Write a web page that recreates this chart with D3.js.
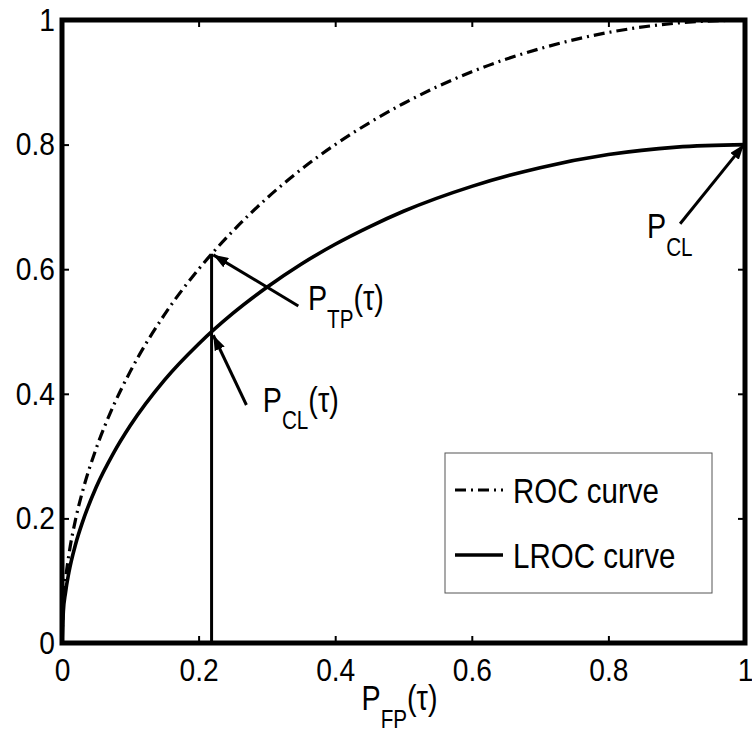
<!DOCTYPE html>
<html>
<head>
<meta charset="utf-8">
<script src="https://cdn.jsdelivr.net/npm/d3@7"></script>
<style>
  body { margin: 0; background: #fff; }
  text { font-family: "Liberation Sans", Arial, sans-serif; fill: #000; }
</style>
</head>
<body>
<script>
// values
const tickValues = [0, 0.2, 0.4, 0.6, 0.8, 1];
const tickLabels = ["0", "0.2", "0.4", "0.6", "0.8", "1"];

// shared x grid for both curves
const pfp = [0, 0.002, 0.005, 0.01, 0.02, 0.03, 0.05, 0.075, 0.1, 0.15, 0.2, 0.25, 0.3, 0.35, 0.4, 0.45, 0.5, 0.6, 0.7, 0.8, 0.9, 1];
// ROC curve (dash-dot)
const rocY = [0, 0.063, 0.100, 0.141, 0.199, 0.243, 0.312, 0.380, 0.436, 0.527, 0.600, 0.661, 0.714, 0.760, 0.800, 0.835, 0.866, 0.917, 0.954, 0.980, 0.995, 1];
// LROC curve (solid)
const lrocY = [0, 0.051, 0.080, 0.113, 0.159, 0.194, 0.250, 0.304, 0.349, 0.422, 0.480, 0.529, 0.571, 0.608, 0.640, 0.668, 0.693, 0.733, 0.763, 0.784, 0.796, 0.8];

// threshold tau
const tauX = 0.219;
const tauTP = 0.625;

// annotations: arrow tail -> head, label anchor (data units)
const arrowNames = ["TP", "CLtau", "CL"];
const arrowTail = [[0.346, 0.541], [0.270, 0.382], [0.905, 0.673]];
const arrowHead = [[0.2215, 0.623], [0.2215, 0.494], [0.9985, 0.8]];
const labelPos = [[0.36, 0.534], [0.294, 0.371], [0.8565, 0.650]];
const labelSub = ["TP", "CL", "CL"];
const labelTail = ["(τ)", "(τ)", ""];

const legendNames = ["ROC curve", "LROC curve"];

class Chart {
  constructor() {
    this.margin = {top: 20, left: 62};
    this.width = 683;
    this.height = 623;
    this.svg = d3.select("body").append("svg")
      .attr("width", 752).attr("height", 735);
    this.plot = this.svg.append("g")
      .attr("transform", `translate(${this.margin.left},${this.margin.top})`);
    this.createScales();
    this.addLines();
    this.addAxes();
    this.addArrows();
    this.addLegend();
  }

  createScales() {
    this.x = d3.scaleLinear().domain([0, 1]).range([0, this.width]);
    this.y = d3.scaleLinear().domain([0, 1]).range([this.height, 0]);
  }

  // subscripted label like P_TP(τ), squeezed a bit horizontally
  label(g, x, y, sub, tail, size) {
    const t = g.append("g")
      .attr("transform", `translate(${x},${y}) scale(0.82,1)`)
      .append("text")
      .style("font-size", size + "px");
    t.append("tspan").text("P");
    t.append("tspan").attr("dy", size * 0.5).style("font-size", (size * 0.72) + "px").text(sub);
    if (tail) t.append("tspan").attr("dy", -size * 0.5).text(tail);
  }

  addLines() {
    const line = d3.line()
      .x(d => this.x(d[0]))
      .y(d => this.y(d[1]))
      .curve(d3.curveMonotoneX);

    const roc = pfp.map((v, i) => [v, rocY[i]]);
    const lroc = pfp.map((v, i) => [v, lrocY[i]]);

    this.plot.append("path")
      .datum(roc)
      .attr("d", line)
      .attr("fill", "none")
      .attr("stroke", "#000")
      .attr("stroke-width", 3.2)
      .attr("stroke-dasharray", "11,5,2,5");

    this.plot.append("path")
      .datum(lroc)
      .attr("d", line)
      .attr("fill", "none")
      .attr("stroke", "#000")
      .attr("stroke-width", 3.6);

    // threshold line
    this.plot.append("line")
      .attr("x1", this.x(tauX)).attr("x2", this.x(tauX))
      .attr("y1", this.y(0)).attr("y2", this.y(tauTP))
      .attr("stroke", "#000")
      .attr("stroke-width", 3);
  }

  addAxes() {
    const h = this.height, w = this.width;
    const fmt = (d, i) => tickLabels[i];

    const xb = this.plot.append("g")
      .attr("transform", `translate(0,${h})`)
      .call(d3.axisBottom(this.x).tickValues(tickValues).tickFormat(fmt)
        .tickSizeInner(-7).tickSizeOuter(0).tickPadding(15));
    const yl = this.plot.append("g")
      .call(d3.axisLeft(this.y).tickValues(tickValues).tickFormat(fmt)
        .tickSizeInner(-7).tickSizeOuter(0).tickPadding(8));
    this.plot.append("g")
      .call(d3.axisTop(this.x).tickValues(tickValues).tickFormat("")
        .tickSizeInner(-7).tickSizeOuter(0));
    this.plot.append("g")
      .attr("transform", `translate(${w},0)`)
      .call(d3.axisRight(this.y).tickValues(tickValues).tickFormat("")
        .tickSizeInner(-7).tickSizeOuter(0));

    this.plot.selectAll(".domain").remove();
    this.plot.selectAll(".tick line").attr("stroke", "#000").attr("stroke-width", 2);
    this.plot.selectAll(".tick text")
      .style("font-size", "32px")
      .attr("font-family", null);
    xb.selectAll(".tick text").attr("transform", "scale(0.88,1)");
    yl.selectAll(".tick text").attr("transform", "scale(0.88,1)").attr("x", -8);

    // box
    this.plot.append("rect")
      .attr("width", w).attr("height", h)
      .attr("fill", "none")
      .attr("stroke", "#000")
      .attr("stroke-width", 5);

    // x axis title centred under the axis
    const g = this.plot.append("g");
    this.label(g, this.x(0.5) - 42, h + 67, "FP", "(τ)", 35);
  }

  addArrows() {
    const defs = this.svg.append("defs");
    defs.append("marker")
      .attr("id", "head")
      .attr("viewBox", "0 0 15 11")
      .attr("refX", 15).attr("refY", 5.5)
      .attr("markerWidth", 15).attr("markerHeight", 11)
      .attr("markerUnits", "userSpaceOnUse")
      .attr("orient", "auto")
      .append("path")
      .attr("d", "M0,0 L15,5.5 L0,11 Z")
      .attr("fill", "#000");

    arrowNames.forEach((n, i) => {
      this.plot.append("line")
        .attr("x1", this.x(arrowTail[i][0])).attr("y1", this.y(arrowTail[i][1]))
        .attr("x2", this.x(arrowHead[i][0])).attr("y2", this.y(arrowHead[i][1]))
        .attr("stroke", "#000")
        .attr("stroke-width", 3)
        .attr("marker-end", "url(#head)");
      this.label(this.plot, this.x(labelPos[i][0]), this.y(labelPos[i][1]),
        labelSub[i], labelTail[i], 35);
    });
  }

  addLegend() {
    // legend box in plot pixels
    const lx = 383, ly = 433, lw = 267, lh = 140;
    const leg = this.plot.append("g").attr("transform", `translate(${lx},${ly})`);
    leg.append("rect")
      .attr("width", lw).attr("height", lh)
      .attr("fill", "#fff")
      .attr("stroke", "#555")
      .attr("stroke-width", 1);

    const rows = [37, 102];
    legendNames.forEach((n, i) => {
      leg.append("line")
        .attr("x1", 10).attr("x2", 58)
        .attr("y1", rows[i]).attr("y2", rows[i])
        .attr("stroke", "#000")
        .attr("stroke-width", i === 0 ? 3.2 : 3.6)
        .attr("stroke-dasharray", i === 0 ? "11,5,2,5" : null);
      leg.append("g")
        .attr("transform", `translate(68,${rows[i] + 13}) scale(0.82,1)`)
        .append("text")
        .style("font-size", "36px")
        .text(n);
    });
  }
}

new Chart();
</script>
</body>
</html>
